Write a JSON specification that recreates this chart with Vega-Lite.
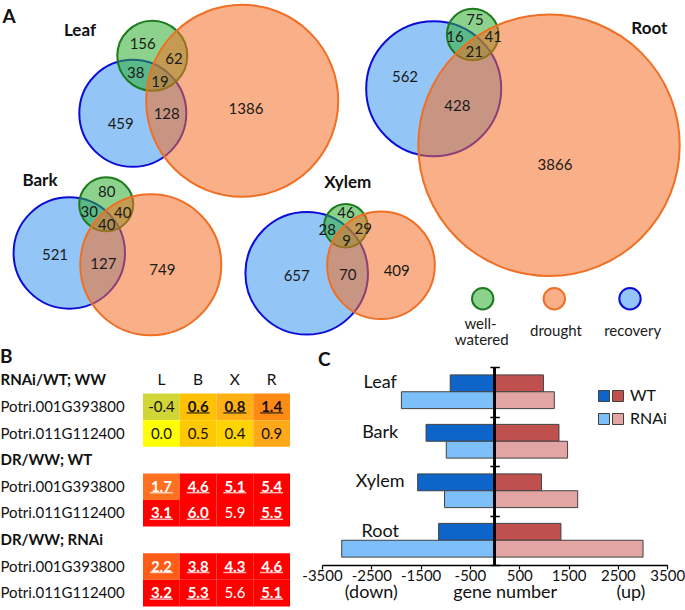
{
  "$schema": "https://vega.github.io/schema/vega-lite/v6.json",
  "background": "white",
  "padding": 0,
  "columns": 1,
  "align": "none",
  "spacing": 0,
  "config": {
    "view": {"stroke": null},
    "font": "Lato",
    "axis": {"labelFont": "Lato", "titleFont": "Lato"},
    "legend": {"labelFont": "Lato"},
    "title": {"font": "Lato"},
    "text": {"font": "Lato"}
  },
  "datasets": {
    "circles": [
      {"tissue": "Leaf", "set": "recovery", "cx": 132.8, "cy": 111.3, "r": 53.5},
      {"tissue": "Leaf", "set": "well-watered", "cx": 152.3, "cy": 53.8, "r": 35},
      {"tissue": "Leaf", "set": "drought", "cx": 242.2, "cy": 98.8, "r": 96},
      {"tissue": "Bark", "set": "recovery", "cx": 69.3, "cy": 251, "r": 55.7},
      {"tissue": "Bark", "set": "well-watered", "cx": 106.2, "cy": 202.3, "r": 27},
      {"tissue": "Bark", "set": "drought", "cx": 150.8, "cy": 262.8, "r": 70.5},
      {"tissue": "Xylem", "set": "recovery", "cx": 306.7, "cy": 271.3, "r": 61.3},
      {"tissue": "Xylem", "set": "well-watered", "cx": 345.8, "cy": 223.8, "r": 21.7},
      {"tissue": "Xylem", "set": "drought", "cx": 381, "cy": 263.3, "r": 53.8},
      {"tissue": "Root", "set": "recovery", "cx": 433.7, "cy": 86.7, "r": 67.5},
      {"tissue": "Root", "set": "well-watered", "cx": 472.7, "cy": 32.5, "r": 25.8},
      {"tissue": "Root", "set": "drought", "cx": 549, "cy": 143.3, "r": 130.7},
      {"tissue": "key", "set": "well-watered", "cx": 482.7, "cy": 296.7, "r": 10.7},
      {"tissue": "key", "set": "drought", "cx": 554.3, "cy": 296.7, "r": 10.7},
      {"tissue": "key", "set": "recovery", "cx": 630, "cy": 296.7, "r": 10.7}
    ],
    "atext": [
      {"label": "A", "kind": "letter", "cx": 9, "cy": 14.5},
      {"label": "Leaf", "kind": "tissue", "cx": 80, "cy": 29},
      {"label": "Bark", "kind": "tissue", "cx": 40, "cy": 179.3},
      {"label": "Xylem", "kind": "tissue", "cx": 347.7, "cy": 180.7},
      {"label": "Root", "kind": "tissue", "cx": 649.3, "cy": 26.7},
      {"label": "156", "kind": "num", "cx": 142.7, "cy": 41.7},
      {"label": "62", "kind": "num", "cx": 174, "cy": 56.7},
      {"label": "38", "kind": "num", "cx": 135.7, "cy": 70.7},
      {"label": "19", "kind": "num", "cx": 160, "cy": 80},
      {"label": "128", "kind": "num", "cx": 166.7, "cy": 111.7},
      {"label": "459", "kind": "num", "cx": 120.7, "cy": 121.7},
      {"label": "1386", "kind": "num", "cx": 246, "cy": 107.3},
      {"label": "80", "kind": "num", "cx": 106.7, "cy": 190},
      {"label": "30", "kind": "num", "cx": 89.3, "cy": 210},
      {"label": "40", "kind": "num", "cx": 122.7, "cy": 211},
      {"label": "40", "kind": "num", "cx": 106.7, "cy": 222.7},
      {"label": "521", "kind": "num", "cx": 55, "cy": 252.7},
      {"label": "127", "kind": "num", "cx": 103.3, "cy": 261.7},
      {"label": "749", "kind": "num", "cx": 162.3, "cy": 268.3},
      {"label": "46", "kind": "num", "cx": 346, "cy": 210.7},
      {"label": "28", "kind": "num", "cx": 327.3, "cy": 228.3},
      {"label": "29", "kind": "num", "cx": 363.3, "cy": 226.7},
      {"label": "9", "kind": "num", "cx": 346.7, "cy": 239},
      {"label": "657", "kind": "num", "cx": 296.7, "cy": 274},
      {"label": "70", "kind": "num", "cx": 347.7, "cy": 272.7},
      {"label": "409", "kind": "num", "cx": 396.7, "cy": 269},
      {"label": "75", "kind": "num", "cx": 475, "cy": 18.3},
      {"label": "16", "kind": "num", "cx": 455, "cy": 35},
      {"label": "41", "kind": "num", "cx": 493.3, "cy": 35},
      {"label": "21", "kind": "num", "cx": 474.3, "cy": 50},
      {"label": "562", "kind": "num", "cx": 405, "cy": 75},
      {"label": "428", "kind": "num", "cx": 457.3, "cy": 104},
      {"label": "3866", "kind": "num", "cx": 555, "cy": 162.7},
      {"label": "well-", "kind": "key", "cx": 480.5, "cy": 321.5},
      {"label": "watered", "kind": "key", "cx": 481.7, "cy": 337.5},
      {"label": "drought", "kind": "key", "cx": 556, "cy": 328.5},
      {"label": "recovery", "kind": "key", "cx": 632.7, "cy": 328.5}
    ],
    "heat": [
      {"row": "1|RNAi/WT; WW", "col": "L", "label": "L", "type": "header"},
      {"row": "1|RNAi/WT; WW", "col": "B", "label": "B", "type": "header"},
      {"row": "1|RNAi/WT; WW", "col": "X", "label": "X", "type": "header"},
      {"row": "1|RNAi/WT; WW", "col": "R", "label": "R", "type": "header"},
      {"row": "2|Potri.001G393800", "col": "L", "value": -0.4, "label": "-0.4", "sig": false, "block": "WW", "type": "cell"},
      {"row": "2|Potri.001G393800", "col": "B", "value": 0.6, "label": "0.6", "sig": true, "block": "WW", "type": "cell"},
      {"row": "2|Potri.001G393800", "col": "X", "value": 0.8, "label": "0.8", "sig": true, "block": "WW", "type": "cell"},
      {"row": "2|Potri.001G393800", "col": "R", "value": 1.4, "label": "1.4", "sig": true, "block": "WW", "type": "cell"},
      {"row": "3|Potri.011G112400", "col": "L", "value": 0.0, "label": "0.0", "sig": false, "block": "WW", "type": "cell"},
      {"row": "3|Potri.011G112400", "col": "B", "value": 0.5, "label": "0.5", "sig": false, "block": "WW", "type": "cell"},
      {"row": "3|Potri.011G112400", "col": "X", "value": 0.4, "label": "0.4", "sig": false, "block": "WW", "type": "cell"},
      {"row": "3|Potri.011G112400", "col": "R", "value": 0.9, "label": "0.9", "sig": false, "block": "WW", "type": "cell"},
      {"row": "5|Potri.001G393800", "col": "L", "value": 1.7, "label": "1.7", "sig": true, "block": "DRWT", "type": "cell"},
      {"row": "5|Potri.001G393800", "col": "B", "value": 4.6, "label": "4.6", "sig": true, "block": "DRWT", "type": "cell"},
      {"row": "5|Potri.001G393800", "col": "X", "value": 5.1, "label": "5.1", "sig": true, "block": "DRWT", "type": "cell"},
      {"row": "5|Potri.001G393800", "col": "R", "value": 5.4, "label": "5.4", "sig": true, "block": "DRWT", "type": "cell"},
      {"row": "6|Potri.011G112400", "col": "L", "value": 3.1, "label": "3.1", "sig": true, "block": "DRWT", "type": "cell"},
      {"row": "6|Potri.011G112400", "col": "B", "value": 6.0, "label": "6.0", "sig": true, "block": "DRWT", "type": "cell"},
      {"row": "6|Potri.011G112400", "col": "X", "value": 5.9, "label": "5.9", "sig": false, "block": "DRWT", "type": "cell"},
      {"row": "6|Potri.011G112400", "col": "R", "value": 5.5, "label": "5.5", "sig": true, "block": "DRWT", "type": "cell"},
      {"row": "8|Potri.001G393800", "col": "L", "value": 2.2, "label": "2.2", "sig": true, "block": "DRRNAi", "type": "cell"},
      {"row": "8|Potri.001G393800", "col": "B", "value": 3.8, "label": "3.8", "sig": true, "block": "DRRNAi", "type": "cell"},
      {"row": "8|Potri.001G393800", "col": "X", "value": 4.3, "label": "4.3", "sig": true, "block": "DRRNAi", "type": "cell"},
      {"row": "8|Potri.001G393800", "col": "R", "value": 4.6, "label": "4.6", "sig": true, "block": "DRRNAi", "type": "cell"},
      {"row": "9|Potri.011G112400", "col": "L", "value": 3.2, "label": "3.2", "sig": true, "block": "DRRNAi", "type": "cell"},
      {"row": "9|Potri.011G112400", "col": "B", "value": 5.3, "label": "5.3", "sig": true, "block": "DRRNAi", "type": "cell"},
      {"row": "9|Potri.011G112400", "col": "X", "value": 5.6, "label": "5.6", "sig": false, "block": "DRRNAi", "type": "cell"},
      {"row": "9|Potri.011G112400", "col": "R", "value": 5.1, "label": "5.1", "sig": true, "block": "DRRNAi", "type": "cell"}
    ],
    "genes": [
      {"tissue": "Leaf", "genotype": "WT", "direction": "down", "series": "WT down", "value": -900},
      {"tissue": "Leaf", "genotype": "RNAi", "direction": "down", "series": "RNAi down", "value": -1890},
      {"tissue": "Leaf", "genotype": "WT", "direction": "up", "series": "WT up", "value": 990},
      {"tissue": "Leaf", "genotype": "RNAi", "direction": "up", "series": "RNAi up", "value": 1210},
      {"tissue": "Bark", "genotype": "WT", "direction": "down", "series": "WT down", "value": -1390},
      {"tissue": "Bark", "genotype": "RNAi", "direction": "down", "series": "RNAi down", "value": -980},
      {"tissue": "Bark", "genotype": "WT", "direction": "up", "series": "WT up", "value": 1305},
      {"tissue": "Bark", "genotype": "RNAi", "direction": "up", "series": "RNAi up", "value": 1480},
      {"tissue": "Xylem", "genotype": "WT", "direction": "down", "series": "WT down", "value": -1560},
      {"tissue": "Xylem", "genotype": "RNAi", "direction": "down", "series": "RNAi down", "value": -1015},
      {"tissue": "Xylem", "genotype": "WT", "direction": "up", "series": "WT up", "value": 950},
      {"tissue": "Xylem", "genotype": "RNAi", "direction": "up", "series": "RNAi up", "value": 1685},
      {"tissue": "Root", "genotype": "WT", "direction": "down", "series": "WT down", "value": -1135},
      {"tissue": "Root", "genotype": "RNAi", "direction": "down", "series": "RNAi down", "value": -3100},
      {"tissue": "Root", "genotype": "WT", "direction": "up", "series": "WT up", "value": 1345},
      {"tissue": "Root", "genotype": "RNAi", "direction": "up", "series": "RNAi up", "value": 3010}
    ]
  },
  "resolve": {"scale": {"fill": "independent", "stroke": "independent", "color": "independent", "size": "independent"}},
  "concat": [
    {
      "width": 685,
      "height": 346,
      "encoding": {
        "x": {"field": "cx", "type": "quantitative", "scale": {"domain": [0, 685], "nice": false, "zero": false}, "axis": null},
        "y": {"field": "cy", "type": "quantitative", "scale": {"domain": [0, 346], "nice": false, "zero": false, "reverse": true}, "axis": null}
      },
      "layer": [
        {
          "data": {"name": "circles"},
          "mark": {"type": "point", "shape": "circle", "filled": true, "opacity": 1, "fillOpacity": 0.55, "strokeWidth": 2, "strokeOpacity": 1},
          "encoding": {
            "size": {"field": "r", "type": "quantitative", "scale": {"type": "pow", "exponent": 2, "domain": [0, 100], "range": [0, 40000], "zero": true}, "legend": null},
            "fill": {"field": "set", "type": "nominal", "scale": {"domain": ["well-watered", "drought", "recovery"], "range": ["#2ead2e", "#f46d25", "#3b97ef"]}, "legend": null},
            "stroke": {"field": "set", "type": "nominal", "scale": {"domain": ["well-watered", "drought", "recovery"], "range": ["#1d7a1d", "#ef7025", "#0c0cd8"]}, "legend": null}
          }
        },
        {
          "data": {"name": "atext"},
          "transform": [{"filter": "datum.kind == 'num'"}],
          "mark": {"type": "text", "fontSize": 15, "color": "#1a1a1a", "align": "center", "baseline": "middle"},
          "encoding": {"text": {"field": "label"}}
        },
        {
          "data": {"name": "atext"},
          "transform": [{"filter": "datum.kind == 'tissue'"}],
          "mark": {"type": "text", "fontSize": 17, "fontWeight": "bold", "color": "#111111", "align": "center", "baseline": "middle"},
          "encoding": {"text": {"field": "label"}}
        },
        {
          "data": {"name": "atext"},
          "transform": [{"filter": "datum.kind == 'letter'"}],
          "mark": {"type": "text", "fontSize": 19, "fontWeight": "bold", "color": "#111111", "align": "center", "baseline": "middle"},
          "encoding": {"text": {"field": "label"}}
        },
        {
          "data": {"name": "atext"},
          "transform": [{"filter": "datum.kind == 'key'"}],
          "mark": {"type": "text", "fontSize": 15, "color": "#1a1a1a", "align": "center", "baseline": "middle"},
          "encoding": {"text": {"field": "label"}}
        }
      ]
    },
    {
      "columns": 2,
      "align": "none",
      "spacing": 11,
      "resolve": {"scale": {"fill": "independent", "stroke": "independent", "color": "independent"}},
      "concat": [
        {
          "width": 290,
          "height": 239.4,
          "title": {"text": "B", "anchor": "start", "frame": "bounds", "fontSize": 19, "fontWeight": "bold", "offset": 0, "color": "#111111"},
          "data": {"name": "heat"},
          "encoding": {
            "x": {"field": "col", "type": "nominal", "scale": {"domain": ["L", "B", "X", "R"], "range": [143, 290], "paddingInner": 0, "paddingOuter": 0}, "axis": null},
            "y": {
              "field": "row", "type": "nominal",
              "scale": {"domain": ["1|RNAi/WT; WW", "2|Potri.001G393800", "3|Potri.011G112400", "4|DR/WW; WT", "5|Potri.001G393800", "6|Potri.011G112400", "7|DR/WW; RNAi", "8|Potri.001G393800", "9|Potri.011G112400"], "paddingInner": 0, "paddingOuter": 0},
              "axis": {
                "orient": "left", "domain": false, "ticks": false, "tickSize": 0, "title": null,
                "labelAlign": "left", "labelBaseline": "middle", "labelPadding": 0, "labelLimit": 0,
                "labelFontSize": 15, "labelColor": "#111111",
                "labelExpr": "split(datum.value, '|')[1]",
                "labelFontWeight": {"condition": {"test": "indexof(datum.value, 'Potri') < 0", "value": "bold"}, "value": "normal"}
              }
            }
          },
          "layer": [
            {
              "transform": [{"filter": "datum.type == 'cell'"}],
              "mark": {"type": "rect"},
              "encoding": {
                "color": {"field": "value", "type": "quantitative", "legend": null,
                  "scale": {"type": "linear", "domain": [-0.4, 0, 0.5, 0.9, 1.4, 1.7, 2.2, 3.0, 6.0], "range": ["#d0d636", "#ffff00", "#ffc800", "#ffa81a", "#ff8a14", "#ff7020", "#ff5c18", "#ff0000", "#ff0000"], "interpolate": "rgb"}}
              }
            },
            {
              "transform": [{"filter": "datum.type == 'cell' && !datum.sig"}],
              "mark": {"type": "text", "fontSize": 15, "baseline": "middle", "align": "center"},
              "encoding": {
                "text": {"field": "label"},
                "color": {"condition": {"test": "datum.block == 'WW'", "value": "#111111"}, "value": "white"}
              }
            },
            {
              "transform": [{"filter": "datum.type == 'cell' && datum.sig"}],
              "mark": {"type": "text", "fontSize": 15, "fontWeight": "bold", "baseline": "middle", "align": "center"},
              "encoding": {
                "text": {"field": "label"},
                "color": {"condition": {"test": "datum.block == 'WW'", "value": "#111111"}, "value": "white"}
              }
            },
            {
              "transform": [{"filter": "datum.type == 'cell' && datum.sig"}],
              "mark": {"type": "tick", "orient": "horizontal", "size": 23, "thickness": 1.5, "yOffset": 6},
              "encoding": {
                "color": {"condition": {"test": "datum.block == 'WW'", "value": "#111111"}, "value": "white"}
              }
            },
            {
              "transform": [{"filter": "datum.type == 'header'"}],
              "mark": {"type": "text", "fontSize": 15.5, "baseline": "middle", "align": "center", "color": "#111111"},
              "encoding": {"text": {"field": "label"}}
            }
          ]
        },
        {
          "width": 345.2,
          "height": 198,
          "title": {"text": "C", "anchor": "start", "frame": "group", "fontSize": 19, "fontWeight": "bold", "offset": -4, "dx": -4, "color": "#111111"},
          "data": {"name": "genes"},
          "resolve": {"scale": {"fill": "independent", "color": "independent"}, "legend": {"fill": "independent", "color": "independent"}},
          "encoding": {
            "x": {"field": "value", "type": "quantitative", "stack": null,
              "scale": {"domain": [-3500, 3500], "nice": false, "zero": false},
              "axis": {
                "values": [-3500, -2500, -1500, -500, 500, 1500, 2500, 3500],
                "labelExpr": "toString(datum.value)",
                "grid": false, "domainColor": "black", "domainWidth": 1.5,
                "tickColor": "black", "tickWidth": 1.2, "tickSize": 4,
                "labelFontSize": 15, "labelColor": "#111111", "labelPadding": -1, "labelFlush": false, "labelOverlap": false,
                "title": "(down)\u00a0\u00a0\u00a0\u00a0\u00a0\u00a0\u00a0\u00a0\u00a0\u00a0\u00a0\u00a0gene number\u00a0\u00a0\u00a0\u00a0\u00a0\u00a0\u00a0\u00a0\u00a0\u00a0\u00a0\u00a0\u00a0(up)",
                "titleFontSize": 18, "titleFontWeight": "normal", "titleColor": "#111111", "titlePadding": 0
              }}
          },
          "layer": [
            {
              "transform": [{"filter": "datum.direction == 'down'"}],
              "mark": {"type": "bar", "stroke": "#404040", "strokeWidth": 1},
              "encoding": {
                "y": {"field": "tissue", "type": "nominal",
                  "scale": {"domain": ["Leaf", "Bark", "Xylem", "Root"], "paddingInner": 0, "paddingOuter": 0},
                  "axis": {"orient": "left", "offset": -177.3, "labels": false, "domain": false, "ticks": true, "tickBand": "extent", "tickSize": 9.4, "tickColor": "black", "tickWidth": 1.5, "title": null, "grid": false}},
                "yOffset": {"field": "genotype", "type": "nominal", "scale": {"domain": ["WT", "RNAi"], "paddingInner": 0, "paddingOuter": 0.467}},
                "fill": {"field": "series", "type": "nominal",
                  "scale": {"domain": ["WT down", "RNAi down"], "range": ["#0d65c9", "#7cbff9"]},
                  "legend": {"orient": "none", "legendX": 274, "legendY": 21, "title": null,
                    "symbolType": "square", "symbolSize": 121, "symbolStrokeColor": "#404040", "symbolStrokeWidth": 1,
                    "labelFontSize": 16, "labelOffset": 0, "rowPadding": 7, "padding": 0,
                    "labelExpr": "''"}}
              }
            },
            {
              "transform": [{"filter": "datum.direction == 'up'"}],
              "mark": {"type": "bar", "stroke": "#404040", "strokeWidth": 1},
              "encoding": {
                "y": {"field": "tissue", "type": "nominal",
                  "axis": {"orient": "left", "offset": -177.3, "labels": false, "domain": false, "ticks": true, "tickBand": "extent", "tickSize": 9.4, "tickColor": "black", "tickWidth": 1.5, "title": null, "grid": false}},
                "yOffset": {"field": "genotype", "type": "nominal"},
                "color": {"field": "series", "type": "nominal",
                  "scale": {"domain": ["WT up", "RNAi up"], "range": ["#c0504d", "#e3a4a4"]},
                  "legend": {"orient": "none", "legendX": 288, "legendY": 21, "title": null,
                    "symbolType": "square", "symbolSize": 121, "symbolStrokeColor": "#404040", "symbolStrokeWidth": 1,
                    "labelFontSize": 16, "labelColor": "#111111", "labelOffset": 4, "rowPadding": 7, "padding": 0,
                    "labelExpr": "split(datum.label, ' ')[0]"}}
              }
            },
            {
              "mark": {"type": "rule", "color": "black", "strokeWidth": 1.5},
              "encoding": {"x": {"datum": 0}}
            },
            {
              "transform": [{"filter": "datum.genotype == 'WT' && datum.direction == 'up'"}],
              "mark": {"type": "text", "fontSize": 18, "color": "#111111", "baseline": "middle", "align": "center"},
              "encoding": {
                "x": {"datum": -2320},
                "y": {"field": "tissue", "type": "nominal"},
                "yOffset": {"field": "genotype", "type": "nominal"},
                "text": {"field": "tissue"}
              }
            }
          ]
        }
      ]
    }
  ]
}
